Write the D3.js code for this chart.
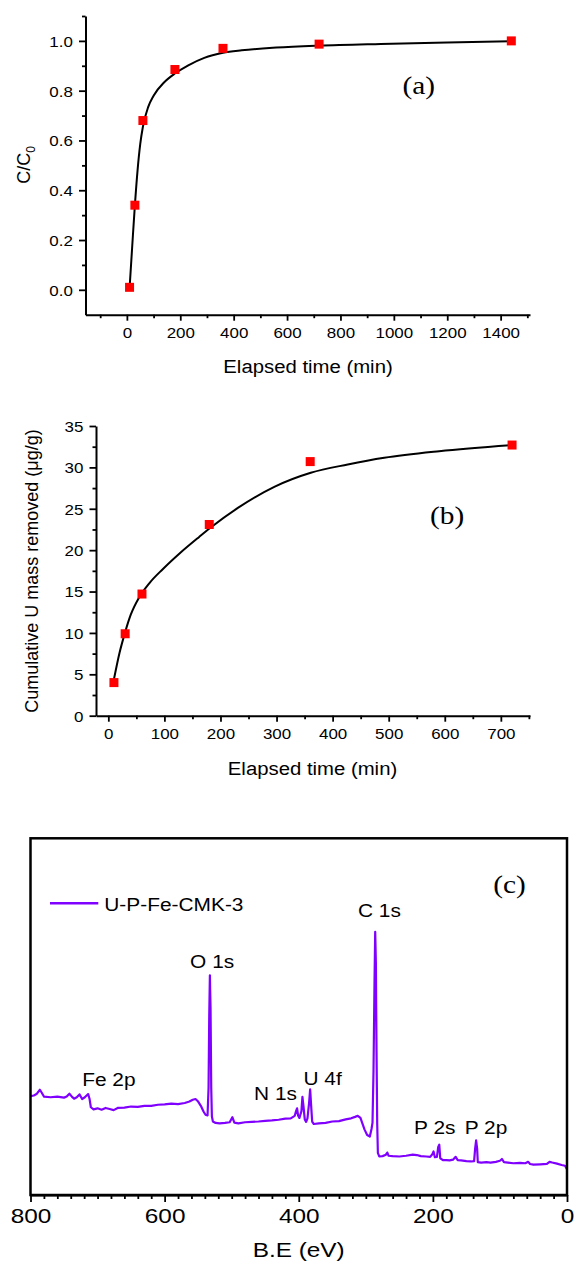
<!DOCTYPE html>
<meta charset="utf-8">
<style>
    body {
        margin: 0;
        background-color: #ffffff;
    }
    svg { display: block; }
    text {
        font-family: Arial, "Liberation Sans", sans-serif;
        fill: #000;
    }
    .serif {
        font-family: "Times New Roman", "Liberation Serif", serif;
    }
    .axis path,
    .axis line {
        fill: none;
        stroke: #000;
        stroke-width: 2px;
    }
    .fit {
        fill: none;
        stroke: #000;
        stroke-width: 2px;
    }
    .dot { fill: #ff0000; }
    .spectrum {
        fill: none;
        stroke: #8000ff;
        stroke-width: 2.2px;
        stroke-linejoin: round;
    }
</style>
<svg width="574" height="1262"></svg>
<script src="https://d3js.org/d3.v7.min.js"></script>

<script>
    // (a) relative concentration vs time
    var timeA = [10, 30, 60, 180, 360, 720, 1440];
    var ratioA = [0.01, 0.34, 0.68, 0.885, 0.97, 0.987, 1.0];
    var fitTimeA = [10, 20, 30, 40, 50, 60, 80, 100, 140, 180, 230, 290, 360, 430, 560, 720, 950, 1200, 1440];
    var fitRatioA = [0.005, 0.175, 0.34, 0.48, 0.585, 0.655, 0.735, 0.78, 0.834, 0.869, 0.902, 0.932, 0.952, 0.962, 0.973, 0.981, 0.988, 0.994, 0.999];

    // (b) cumulative U removed
    var timeB = [10, 30, 60, 180, 360, 720];
    var massB = [4.0, 9.9, 14.7, 23.1, 30.7, 32.7];
    var fitTimeB = [10, 20, 30, 40, 55, 73, 97, 127, 162, 182, 231, 296, 361, 427, 492, 590, 720];
    var fitMassB = [4.4, 7.6, 10.1, 12.2, 14.3, 16.0, 17.7, 19.6, 21.6, 22.7, 25.1, 27.65, 29.35, 30.35, 31.16, 31.96, 32.7];

    // (c) XPS survey, binding energy (eV) / intensity (a.u.)
    var beC = [800, 795, 791, 786, 783, 780, 770, 760, 750, 746, 742, 738, 735, 731, 727, 723, 719, 714, 712, 710,
        706, 700, 694, 688, 682, 676, 670, 660, 650, 640, 630, 620, 610, 600, 590, 580, 570, 563, 558, 554,
        550, 546, 542, 539, 536, 534.5, 533.5, 532.5, 531.5, 530.5, 529.5, 528, 524, 518, 510, 503, 499, 496, 490, 480,
        470, 460, 450, 440, 430, 420, 412, 406, 404, 402.5, 401, 399, 396, 394.5, 393, 391, 389, 387, 384.5, 383,
        381.5, 380, 377.5, 370, 360, 350, 340, 330, 322, 316, 312, 308, 305, 302, 298, 294, 291.5, 290, 288.5, 287,
        286, 285, 284, 283, 282, 280, 275, 270, 268, 266, 260, 250, 240, 230, 224, 218, 210, 204, 200.5, 199,
        197, 194, 192, 190.5, 189, 185, 180, 175, 170, 166, 163, 158, 150, 143, 138.5, 137, 135.5, 134, 133, 128,
        120, 114, 106, 100, 97, 94, 88, 80, 70, 62, 58, 55, 50, 40, 30, 26, 22, 15, 8, 3, 0];
    var countsC = [27.7, 27.9, 28.3, 29.5, 28.6, 27.6, 27.4, 27.6, 27.3, 27.6, 28.4, 27.5, 27.0, 27.4, 28.2, 26.9, 27.4, 28.3, 27.0, 24.6,
        24.0, 24.3, 23.9, 24.4, 24.1, 23.8, 24.4, 24.5, 24.8, 24.7, 25.0, 25.0, 25.3, 25.4, 25.6, 25.5, 25.8, 26.2, 26.7, 26.9,
        26.2, 25.0, 23.4, 22.5, 22.3, 30, 50, 61.6, 52, 30, 22, 20.6, 20.2, 20.1, 20.2, 20.4, 21.8, 20.3, 20.1, 20.4,
        20.5, 20.6, 20.8, 20.9, 21.1, 21.4, 21.5, 22.2, 23.5, 24.3, 22.3, 21.6, 23.5, 27.5, 25, 21.2, 20.5, 21.5, 26, 29.6,
        25, 20.6, 19.9, 20.1, 20.2, 20.6, 20.7, 21.2, 21.5, 21.9, 22.2, 21.6, 20.0, 18.4, 16.8, 16.4, 18.5, 20.3, 35, 60,
        73.8, 65, 40, 20, 11.8, 10.8, 10.9, 11.3, 11.9, 11.0, 10.9, 10.8, 11.0, 11.3, 11.2, 10.9, 10.8, 10.7, 11.5, 12.2,
        10.6, 10.7, 13.5, 14.1, 10.3, 9.8, 9.8, 9.7, 9.9, 10.7, 9.8, 9.7, 9.5, 9.4, 9.5, 13, 15.3, 13, 9.2, 9.1,
        9.2, 9.1, 9.3, 9.6, 10.1, 9.2, 9.1, 8.9, 9.0, 8.9, 9.3, 8.7, 8.5, 8.6, 8.7, 9.3, 9.1, 8.8, 8.4, 8.2, 7.2];
    var peakLabels = ["Fe 2p", "O 1s", "N 1s", "U 4f", "C 1s", "P 2s", "P 2p"];
    var seriesName = "U-P-Fe-CMK-3";

    var svg = d3.select("svg");
    var sx = 1.13;   // the source figure is a little wider than tall

    function txt(parent, x, y, s, size, anchor, cls, stretch) {
        return parent.append("text")
            .attr("class", cls || null)
            .attr("transform", "translate(" + x + "," + y + ") scale(" + (stretch || sx) + ",1)")
            .attr("text-anchor", anchor || "start")
            .attr("font-size", size)
            .text(s);
    }

    function zip(xs, ys) {
        return xs.map(function(d, i) { return [d, ys[i]]; });
    }

    // axes helper for panels a and b (left + bottom only, outward ticks)
    function drawAxes(x, y, xMajor, xMinor, yMajor, yMinor, yFmt, yLabelX) {
        var x0 = y.range()[0];
        var gx = svg.append("g").attr("class", "axis")
            .attr("transform", "translate(0," + x0 + ")");
        gx.call(d3.axisBottom(x).tickValues(xMajor).tickSize(6).tickSizeOuter(0).tickFormat(d3.format("d")));
        gx.append("g").call(d3.axisBottom(x).tickValues(xMinor).tickSize(3.5).tickFormat(""))
            .select(".domain").remove();
        gx.selectAll("text")
            .attr("font-size", 15).attr("font-family", null)
            .attr("y", 23).attr("dy", 0)
            .attr("transform", "scale(" + sx + ",1)");

        var gy = svg.append("g").attr("class", "axis")
            .attr("transform", "translate(" + x.range()[0] + ",0)");
        gy.call(d3.axisLeft(y).tickValues(yMajor).tickSize(6.5).tickSizeOuter(0).tickFormat(yFmt));
        gy.append("g").call(d3.axisLeft(y).tickValues(yMinor).tickSize(3.5).tickFormat(""))
            .select(".domain").remove();
        gy.selectAll("text")
            .attr("font-size", 15).attr("font-family", null)
            .attr("x", yLabelX / sx).attr("dy", "0.36em")
            .attr("transform", "scale(" + sx + ",1)");
        svg.selectAll(".axis .tick line").style("stroke-width", "1.8px");
    }

    function drawPoints(x, y, xs, ys) {
        svg.append("g").selectAll(".dot")
            .data(zip(xs, ys))
            .enter().append("rect")
            .attr("class", "dot")
            .attr("x", function(d) { return x(d[0]) - 4.5; })
            .attr("y", function(d) { return y(d[1]) - 4.5; })
            .attr("width", 9)
            .attr("height", 9);
    }

    // ---------- (a) ----------
    var xa = d3.scaleLinear().domain([-155, 1510]).range([85.5, 530]);
    var ya = d3.scaleLinear().domain([-0.1, 1.1]).range([314.7, 16]);

    drawAxes(xa, ya,
        d3.range(0, 1401, 200), d3.range(-100, 1501, 200),
        [0, 0.2, 0.4, 0.6, 0.8, 1.0], [0.1, 0.3, 0.5, 0.7, 0.9, 1.1],
        d3.format(".1f"), -12.7);

    svg.append("path")
        .datum(zip(fitTimeA, fitRatioA))
        .attr("class", "fit")
        .attr("d", d3.line().x(function(d) { return xa(d[0]); }).y(function(d) { return ya(d[1]); })
            .curve(d3.curveMonotoneX));
    drawPoints(xa, ya, timeA, ratioA);

    txt(svg, 308, 373, "Elapsed time (min)", 18, "middle");
    var ta = svg.append("text")
        .attr("transform", "translate(30,165) rotate(-90)")
        .attr("text-anchor", "middle")
        .attr("font-size", 18);
    ta.append("tspan").text("C/C");
    ta.append("tspan").attr("font-size", 12).attr("dy", 5).text("0");
    txt(svg, 402.5, 93.5, "(a)", 26, "start", "serif");

    // ---------- (b) ----------
    var xb = d3.scaleLinear().domain([-22, 752]).range([96, 530]);
    var yb = d3.scaleLinear().domain([0, 35]).range([715.7, 426]);

    drawAxes(xb, yb,
        d3.range(0, 701, 100), d3.range(50, 751, 100),
        d3.range(0, 36, 5), d3.range(2.5, 35, 5),
        d3.format("d"), -12.7);

    svg.append("path")
        .datum(zip(fitTimeB, fitMassB))
        .attr("class", "fit")
        .attr("d", d3.line().x(function(d) { return xb(d[0]); }).y(function(d) { return yb(d[1]); })
            .curve(d3.curveMonotoneX));
    drawPoints(xb, yb, timeB, massB);

    txt(svg, 312.5, 775, "Elapsed time (min)", 18, "middle");
    svg.append("text")
        .attr("transform", "translate(38,571) rotate(-90)")
        .attr("text-anchor", "middle")
        .attr("font-size", 18)
        .text("Cumulative U mass removed (\u03bcg/g)");
    txt(svg, 430, 524, "(b)", 26, "start", "serif");

    // ---------- (c) ----------
    var xc = d3.scaleLinear().domain([800, 0]).range([30.5, 567]);
    var yc = d3.scaleLinear().domain([0, 100]).range([1195, 838.3]);
    var sc = 1.16;

    svg.append("path")
        .datum(zip(beC, countsC))
        .attr("class", "spectrum")
        .attr("d", d3.line().x(function(d) { return xc(d[0]); }).y(function(d) { return yc(d[1]); }));

    var gc = svg.append("g").attr("class", "axis")
        .attr("transform", "translate(0," + yc.range()[0] + ")");
    gc.call(d3.axisBottom(xc).tickValues(d3.range(0, 801, 200)).tickSize(7).tickSizeOuter(0));
    gc.append("g").call(d3.axisBottom(xc).tickValues(d3.range(20, 800, 20).filter(function(d) { return d % 200; }))
        .tickSize(4).tickFormat("")).select(".domain").remove();
    gc.selectAll("text")
        .attr("font-size", 21).attr("font-family", null)
        .attr("y", 28.3).attr("dy", 0)
        .attr("transform", "scale(" + sc + ",1)");
    gc.selectAll(".tick line").style("stroke-width", "1.8px");

    svg.append("rect")
        .attr("x", xc.range()[0])
        .attr("y", yc.range()[1])
        .attr("width", xc.range()[1] - xc.range()[0])
        .attr("height", yc.range()[0] - yc.range()[1])
        .attr("fill", "none")
        .attr("stroke", "#000")
        .attr("stroke-width", 2.5);

    // peak annotations, anchored in (eV, intensity)
    var peakPos = [[723, 30.5], [562, 63.6], [466.7, 26.5], [393, 30.8], [311.7, 78], [228, 17.1], [152.5, 17.1]];
    peakLabels.forEach(function(name, i) {
        txt(svg, xc(peakPos[i][0]), yc(peakPos[i][1]), name, 18, "start", null, sc);
    });

    // legend
    svg.append("line")
        .attr("x1", 50).attr("x2", 98.3)
        .attr("y1", 903.3).attr("y2", 903.3)
        .attr("stroke", "#8000ff").attr("stroke-width", 2.5);
    txt(svg, 104.3, 910.5, seriesName, 18, "start", null, sc);

    txt(svg, 493.3, 893, "(c)", 26, "start", "serif");
    txt(svg, 298.7, 1256.5, "B.E (eV)", 21, "middle", null, sc);
</script>
